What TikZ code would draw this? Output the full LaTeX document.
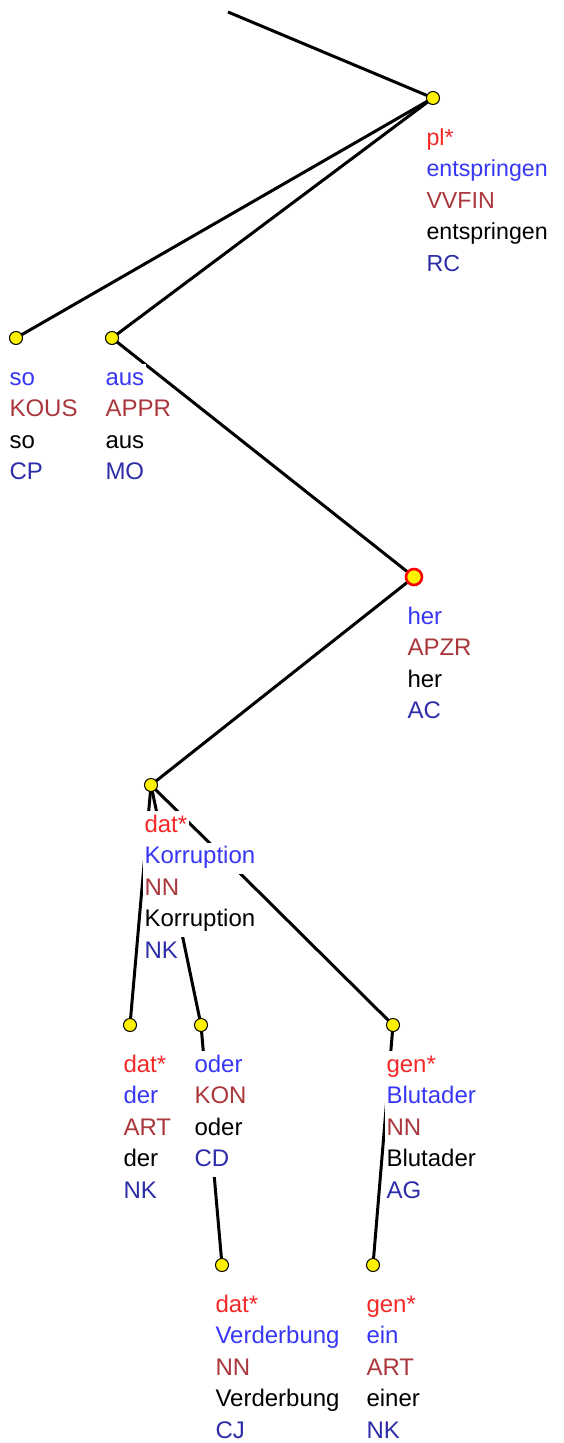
\documentclass[tikz,border=0pt]{standalone}
\usepackage{fontspec}
\setmainfont{Liberation Sans}
\definecolor{mred}{RGB}{245,40,40}
\definecolor{wblue}{RGB}{55,55,245}
\definecolor{pbrown}{RGB}{170,55,60}
\definecolor{fblue}{RGB}{45,45,170}
\tikzset{
  edge/.style={line width=3bp, black},
  tok/.style={circle, fill=yellow, draw=black, line width=1bp, minimum size=13bp, inner sep=0pt},
  headtok/.style={circle, fill=yellow, draw=red, line width=2.6bp, minimum size=16bp, inner sep=0pt},
  rowlab/.style={fill=white, inner xsep=1.5bp, inner ysep=0pt, outer sep=0pt,
    text height=21bp, text depth=10.5bp, anchor=base west,
    font=\fontsize{24bp}{31.5bp}\selectfont},
  narrowlab/.style={font=\fontsize{23.2bp}{31.5bp}\selectfont},
}
% rows of a word label, below the token marker #2; #4 adds row options
\newcommand\wordrows[4][]{%
  \foreach [count=\i] \c/\t in {#4} {%
    \node[rowlab, #1, text=\c] (#2-\i) at ([xshift=-8bp, yshift={-47bp-(\i-1)*31.5bp}]#3) {\t};
  }}
\begin{document}
\begin{tikzpicture}[x=1bp, y=-1bp]
  \useasboundingbox[fill=white] (0,0) rectangle (564,1443);
  % token positions
  \coordinate (top)  at (228,12);
  \coordinate (pl)   at (433,98);
  \coordinate (so)   at (16,338);
  \coordinate (aus)  at (112,338);
  \coordinate (her)  at (414,577);
  \coordinate (korr) at (151,785);
  \coordinate (der)  at (130,1025);
  \coordinate (oder) at (201,1025);
  \coordinate (blut) at (393,1025);
  \coordinate (verd) at (222,1265);
  \coordinate (ein)  at (373,1265);
  % dependency edges
  \draw[edge] (top) -- (pl);
  \draw[edge] (pl) -- (so);
  \draw[edge] (pl) -- (aus);
  \draw[edge] (aus) -- (her);
  \draw[edge] (her) -- (korr);
  \draw[edge] (korr) -- (der);
  \draw[edge] (korr) -- (oder);
  \draw[edge] (korr) -- (blut);
  \draw[edge] (oder) -- (verd);
  \draw[edge] (blut) -- (ein);
  % token markers
  \node[tok] (pl-m)   at (pl) {};
  \node[tok] (so-m)   at (so) {};
  \node[tok] (aus-m)  at (aus) {};
  \node[headtok] (her-m) at (her) {};
  \node[tok] (korr-m) at (korr) {};
  \node[tok] (der-m)  at (der) {};
  \node[tok] (oder-m) at (oder) {};
  \node[tok] (blut-m) at (blut) {};
  \node[tok] (verd-m) at (verd) {};
  \node[tok] (ein-m)  at (ein) {};
  % word labels
  \wordrows[narrowlab]{plw}{pl}{mred/pl*, wblue/entspringen, pbrown/VVFIN, black/entspringen, fblue/RC}
  \wordrows{sow}{so}{wblue/so, pbrown/KOUS, black/so, fblue/CP}
  \wordrows{ausw}{aus}{wblue/aus, pbrown/APPR, black/aus, fblue/MO}
  \wordrows{herw}{her}{wblue/her, pbrown/APZR, black/her, fblue/AC}
  \wordrows{korrw}{korr}{mred/dat*, wblue/Korruption, pbrown/NN, black/Korruption, fblue/NK}
  \wordrows{derw}{der}{mred/dat*, wblue/der, pbrown/ART, black/der, fblue/NK}
  \wordrows{oderw}{oder}{wblue/oder, pbrown/KON, black/oder, fblue/CD}
  \wordrows{blutw}{blut}{mred/gen*, wblue/Blutader, pbrown/NN, black/Blutader, fblue/AG}
  \wordrows{verdw}{verd}{mred/dat*, wblue/Verderbung, pbrown/NN, black/Verderbung, fblue/CJ}
  \wordrows{einw}{ein}{mred/gen*, wblue/ein, pbrown/ART, black/einer, fblue/NK}
\end{tikzpicture}
\end{document}
